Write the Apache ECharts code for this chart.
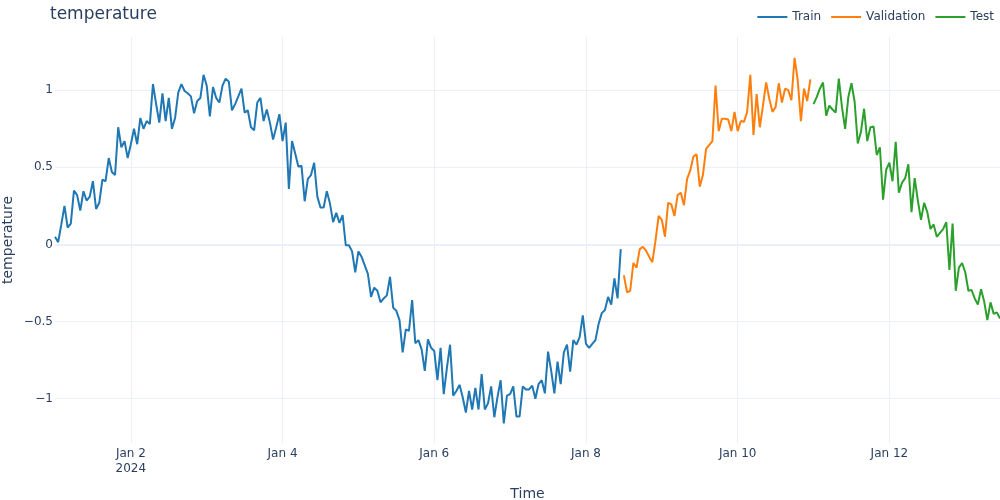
<!DOCTYPE html>
<html>
<head>
<meta charset="utf-8">
<title>temperature</title>
<script src="https://cdn.jsdelivr.net/npm/echarts@6/dist/echarts.min.js"></script>
</head>
<body style="margin:0;background:#fff">
<div id="main" style="width:1000px;height:500px;"></div>
<script>
// hourly readings, starting 2024-01-01 00:00
var trainValues = [
  0.05, 0.015, 0.13, 0.25, 0.11, 0.135, 0.35, 0.32, 0.22, 0.345,
  0.285, 0.31, 0.41, 0.23, 0.27, 0.42, 0.41, 0.56, 0.47, 0.45,
  0.76, 0.63, 0.67, 0.56, 0.65, 0.75, 0.65, 0.82, 0.75, 0.80,
  0.78, 1.04, 0.91, 0.79, 0.98, 0.80, 0.95, 0.75, 0.82, 0.985,
  1.04, 0.995, 0.98, 0.96, 0.85, 0.93, 0.95, 1.10, 1.03, 0.83,
  1.02, 0.95, 0.92, 1.03, 1.075, 1.055, 0.87, 0.91, 0.96, 1.01,
  0.855, 0.87, 0.76, 0.74, 0.92, 0.95, 0.80, 0.875, 0.79, 0.68,
  0.76, 0.845, 0.67, 0.79, 0.36, 0.67, 0.59, 0.505, 0.51, 0.28,
  0.425, 0.45, 0.53, 0.31, 0.24, 0.24, 0.345, 0.265, 0.145, 0.205,
  0.14, 0.19, -0.005, -0.005, -0.045, -0.18, -0.045, -0.08, -0.135, -0.19,
  -0.34, -0.28, -0.30, -0.375, -0.35, -0.33, -0.21, -0.41, -0.43, -0.49,
  -0.70, -0.55, -0.56, -0.36, -0.64, -0.62, -0.68, -0.82, -0.615, -0.67,
  -0.69, -0.88, -0.67, -0.97, -0.80, -0.65, -0.98, -0.95, -0.91, -0.99,
  -1.09, -0.95, -1.07, -0.93, -1.07, -0.84, -1.07, -1.03, -0.92, -1.12,
  -0.99, -0.88, -1.16, -0.98, -0.97, -0.92, -1.115, -1.115, -0.92, -0.94,
  -0.94, -0.915, -1.00, -0.905, -0.88, -0.965, -0.695, -0.82, -0.965, -0.76,
  -0.905, -0.70, -0.65, -0.825, -0.62, -0.65, -0.60, -0.46, -0.645, -0.67,
  -0.645, -0.62, -0.515, -0.445, -0.425, -0.34, -0.39, -0.22, -0.35, -0.03
];
var validationValues = [
  -0.20, -0.31, -0.30, -0.12, -0.15, -0.03, -0.015, -0.04, -0.08, -0.115,
  0.025, 0.186, 0.16, 0.05, 0.27, 0.26, 0.185, 0.32, 0.335, 0.255,
  0.425, 0.48, 0.57, 0.585, 0.375, 0.45, 0.62, 0.645, 0.67, 1.03,
  0.735, 0.815, 0.815, 0.81, 0.735, 0.86, 0.735, 0.80, 0.795, 0.86,
  1.10, 0.71, 0.975, 0.76, 0.90, 1.05, 0.945, 0.86, 0.89, 1.045,
  0.92, 1.01, 1.00, 0.935, 1.21, 1.065, 0.80, 1.01, 0.93, 1.07
];
var testValues = [
  0.91, 0.955, 1.01, 1.05, 0.835, 0.90, 0.875, 0.855, 1.075, 0.89,
  0.75, 0.955, 1.045, 0.925, 0.655, 0.73, 0.88, 0.67, 0.76, 0.765,
  0.58, 0.63, 0.29, 0.485, 0.53, 0.41, 0.665, 0.335, 0.40, 0.43,
  0.52, 0.21, 0.43, 0.285, 0.16, 0.27, 0.21, 0.10, 0.13, 0.05,
  0.075, 0.10, 0.145, -0.165, 0.135, -0.30, -0.15, -0.12, -0.18, -0.30,
  -0.295, -0.35, -0.39, -0.29, -0.37, -0.49, -0.375, -0.45, -0.44, -0.48
];
var tickHours = [24, 72, 120, 168, 216, 264];
var tickLabels = ['Jan 2\n2024', 'Jan 4', 'Jan 6', 'Jan 8', 'Jan 10', 'Jan 12'];

window.onload = function () {
  var chart = echarts.init(document.getElementById('main'));

  var total = trainValues.length + validationValues.length + testValues.length;
  var start = Date.UTC(2024, 0, 1, 0, 0);
  var hours = [];
  for (var i = 0; i < total; i++) {
    hours.push(new Date(start + i * 3600000).toISOString().slice(0, 16));
  }

  function pairs(values, offset) {
    var out = [];
    for (var i = 0; i < values.length; i++) out.push([offset + i, values[i]]);
    return out;
  }
  function isTick(index) {
    return tickHours.indexOf(index) !== -1;
  }

  var ink = '#2a3f5f';
  var grid = '#EBF0F8';
  var font = '"DejaVu Sans", Verdana, sans-serif';

  var option = {
    animation: false,
    textStyle: { fontFamily: font },
    title: {
      text: 'temperature',
      left: 45,
      top: 1,
      textStyle: { fontSize: 17, fontWeight: 'normal', color: ink, fontFamily: font }
    },
    legend: {
      right: 1,
      top: 6,
      icon: 'rect',
      itemWidth: 30,
      itemHeight: 2,
      itemGap: 10,
      textStyle: { fontSize: 12, color: ink, fontFamily: font },
      data: ['Train', 'Validation', 'Test']
    },
    grid: { left: 55, right: 0, top: 37, bottom: 57, outerBoundsMode: 'none' },
    xAxis: {
      type: 'category',
      data: hours,
      boundaryGap: false,
      name: 'Time',
      nameLocation: 'middle',
      nameGap: 44,
      nameMoveOverlap: false,
      nameTextStyle: { fontSize: 14, color: ink },
      axisLine: { show: false },
      axisTick: { show: false },
      axisLabel: {
        interval: function (index) { return isTick(index); },
        margin: 3,
        fontSize: 12,
        lineHeight: 15,
        color: ink,
        formatter: function (value, index) {
          return tickLabels[tickHours.indexOf(index)];
        }
      },
      splitLine: {
        show: true,
        interval: function (index) { return isTick(index); },
        lineStyle: { color: grid, width: 1 }
      }
    },
    yAxis: {
      type: 'value',
      min: -1.287,
      max: 1.345,
      splitNumber: 5,
      name: 'temperature',
      nameLocation: 'middle',
      nameGap: 40,
      nameMoveOverlap: false,
      nameTextStyle: { fontSize: 14, color: ink },
      axisLine: { show: false },
      axisTick: { show: false },
      axisLabel: {
        margin: 2,
        fontSize: 12,
        color: ink,
        showMinLabel: false,
        showMaxLabel: false,
        formatter: function (v) { return String(v).replace('-', '\u2212'); }
      },
      splitLine: {
        show: true,
        showMinLine: false,
        showMaxLine: false,
        lineStyle: { color: grid, width: 1 }
      }
    },
    series: [
      {
        name: 'Train',
        type: 'line',
        symbol: 'none',
        color: '#1f77b4',
        lineStyle: { width: 2 },
        data: pairs(trainValues, 0),
        markLine: {
          silent: true,
          symbol: 'none',
          label: { show: false },
          lineStyle: { color: grid, width: 2, type: 'solid' },
          data: [{ yAxis: 0 }],
          z: 1
        },
        z: 3
      },
      {
        name: 'Validation',
        type: 'line',
        symbol: 'none',
        color: '#ff7f0e',
        lineStyle: { width: 2 },
        data: pairs(validationValues, trainValues.length),
        z: 3
      },
      {
        name: 'Test',
        type: 'line',
        symbol: 'none',
        color: '#2ca02c',
        lineStyle: { width: 2 },
        data: pairs(testValues, trainValues.length + validationValues.length),
        z: 3
      }
    ]
  };

  chart.setOption(option);
};
</script>
</body>
</html>
